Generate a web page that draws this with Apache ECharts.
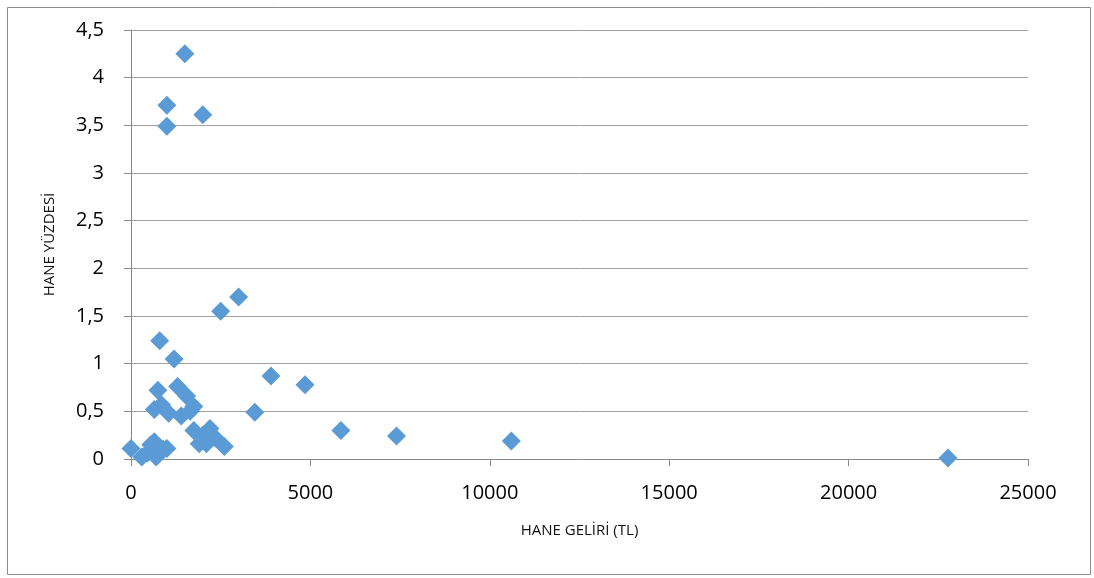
<!DOCTYPE html>
<html>
<head>
<meta charset="utf-8">
<script src="https://cdn.jsdelivr.net/npm/echarts@6/dist/echarts.min.js"></script>
<style>
  html, body { margin: 0; padding: 0; background: #fff; }
  #chart { width: 1094px; height: 578px; }
</style>
</head>
<body>
<div id="chart"></div>
<script>
// Household income (TL) against share of households (%)
var income = [
  0, 300, 450, 550, 650, 700, 800, 900, 1000,
  650, 750, 850, 1050, 800, 1200, 1300, 1400, 1550, 1750, 1650,
  1750, 1900, 2100, 2200, 2350, 2600, 2000,
  1500, 1000, 1000, 2000, 2500, 3000, 3450, 3900, 4850,
  5850, 7400, 10600, 22770
];
var share = [
  0.11, 0.02, 0.06, 0.15, 0.18, 0.02, 0.08, 0.10, 0.11,
  0.52, 0.72, 0.57, 0.48, 1.24, 1.05, 0.76, 0.45, 0.66, 0.55, 0.50,
  0.30, 0.16, 0.16, 0.32, 0.22, 0.13, 0.25,
  4.25, 3.71, 3.49, 3.61, 1.55, 1.70, 0.49, 0.87, 0.78,
  0.30, 0.24, 0.19, 0.01
];
var xTitle = 'HANE GELİRİ (TL)';
var yTitle = 'HANE YÜZDESİ';

var points = income.map(function (v, i) { return [v, share[i]]; });

var chart = echarts.init(document.getElementById('chart'), null, { renderer: 'canvas' });
var labelFont = 'Open Sans, Liberation Sans, sans-serif';

chart.setOption({
  animation: false,
  backgroundColor: '#ffffff',
  grid: { left: 131, right: 66, top: 30, bottom: 119, containLabel: false },
  graphic: [{
    type: 'rect',
    left: 5, top: 5,
    shape: { width: 1083, height: 567 },
    style: { fill: 'none', stroke: '#8c8c8c', lineWidth: 1 },
    silent: true
  }],
  xAxis: {
    type: 'value',
    min: 0, max: 25000, interval: 5000,
    name: xTitle,
    nameLocation: 'middle',
    nameGap: 64,
    nameTextStyle: { fontFamily: labelFont, fontSize: 15, color: '#111' },
    axisLine: { show: true, lineStyle: { color: '#8a8a8a', width: 1 } },
    axisTick: { show: true, length: 7, lineStyle: { color: '#8a8a8a' } },
    axisLabel: {
      fontFamily: labelFont, fontSize: 20, color: '#000', margin: 24,
      formatter: function (v) { return String(v); }
    },
    splitLine: { show: false }
  },
  yAxis: {
    type: 'value',
    min: 0, max: 4.5, interval: 0.5,
    name: yTitle,
    nameLocation: 'middle',
    nameGap: 74,
    nameRotate: 90,
    nameTextStyle: { fontFamily: labelFont, fontSize: 15, color: '#111' },
    axisLine: { show: true, lineStyle: { color: '#8a8a8a', width: 1 } },
    axisTick: { show: true, length: 7, lineStyle: { color: '#8a8a8a' } },
    axisLabel: {
      fontFamily: labelFont, fontSize: 20, color: '#000', margin: 27,
      formatter: function (v) { return String(v).replace('.', ','); }
    },
    splitLine: { show: true, lineStyle: { color: '#a0a0a0', width: 1 } }
  },
  series: [{
    type: 'scatter',
    data: points,
    symbol: 'diamond',
    symbolSize: [19, 19],
    itemStyle: { color: '#5b9bd5', opacity: 1 }
  }]
});
</script>
</body>
</html>
